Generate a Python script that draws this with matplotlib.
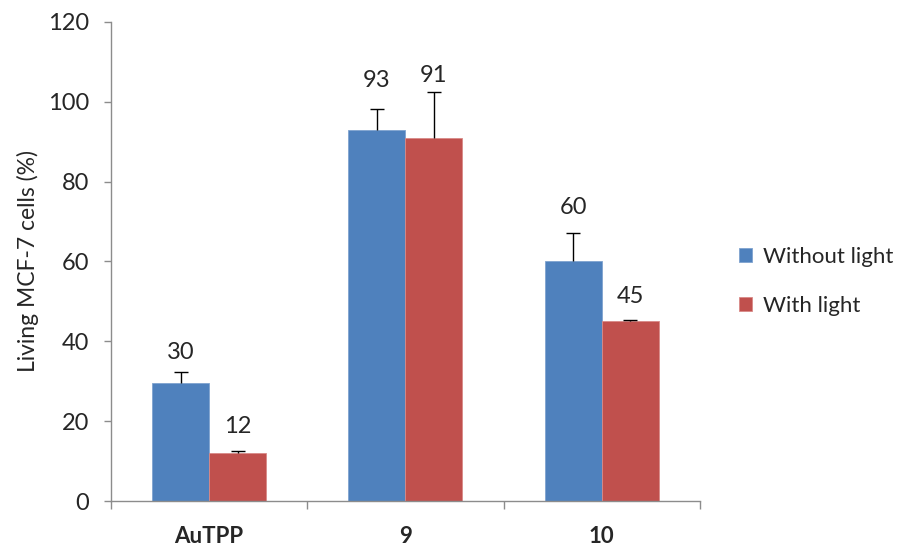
import matplotlib.pyplot as plt
import numpy as np

plt.rcParams["font.family"] = ["Lato", "DejaVu Sans"]

# données
groups = ["AuTPP", "9", "10"]
without_light = [29.6, 92.8, 60.1]
with_light = [11.9, 90.9, 45.0]
err_without = [2.8, 5.4, 6.9]
err_with = [0.5, 11.5, 0.4]
labels_without = ["30", "93", "60"]
labels_with = ["12", "91", "45"]

# décalage des étiquettes au-dessus de la barre (pixels)
off_without = [30, 50, 54]
off_with = [27, 63, 25]

BLUE = "#4F81BD"
RED = "#C0504D"
AXIS = "#8C8C8C"
TXT = "#262626"

fig = plt.figure(figsize=(9.1, 5.46), dpi=100)
ax = fig.add_axes([0.122, 0.0824, 0.647, 0.8776])

x = np.arange(len(groups)) + 0.5
w = 0.29

ax.bar(x - w/2, without_light, w, color=BLUE, edgecolor="#7FA3CF", linewidth=0.6,
       label="Without light", zorder=2)
ax.bar(x + w/2, with_light, w, color=RED, edgecolor="#D98A88", linewidth=0.6,
       label="With light", zorder=2)

# barres d'erreur : seulement vers le haut
for xs, vals, errs in [(x - w/2, without_light, err_without),
                       (x + w/2, with_light, err_with)]:
    eb = ax.errorbar(xs, vals, yerr=[[0]*3, errs], fmt="none",
                     ecolor="black", elinewidth=1, capsize=5, capthick=1, zorder=3)
    eb[1][0].set_visible(False)  # cacher le cap du bas

for xi, v, lab, off in zip(x - w/2, without_light, labels_without, off_without):
    ax.annotate(lab, xy=(xi, v), xytext=(0, off), textcoords="offset pixels",
                ha="center", va="center", fontsize=17, color=TXT)
for xi, v, lab, off in zip(x + w/2, with_light, labels_with, off_with):
    ax.annotate(lab, xy=(xi, v), xytext=(0, off), textcoords="offset pixels",
                ha="center", va="center", fontsize=17, color=TXT)

ax.set_xlim(0, 3)
ax.set_ylim(0, 120)
ax.set_yticks(range(0, 121, 20))
ax.tick_params(axis="y", labelsize=17, colors=AXIS, labelcolor=TXT,
               length=5, width=1, pad=11)
ax.set_xticks([0, 1, 2, 3])
ax.set_xticklabels([])
ax.set_xticks(x, minor=True)
ax.set_xticklabels(groups, minor=True, fontsize=16, fontweight="bold", color=TXT)
ax.tick_params(axis="x", which="major", colors=AXIS, length=6, width=1)
ax.tick_params(axis="x", which="minor", length=0, pad=18)

ax.spines[["top", "right"]].set_visible(False)
for s in ["left", "bottom"]:
    ax.spines[s].set_color(AXIS)
    ax.spines[s].set_linewidth(1)

ax.set_ylabel("Living MCF-7 cells (%)", fontsize=16.5, color=TXT, labelpad=6)

fig.legend(loc="center left", bbox_to_anchor=(0.79, 0.485), frameon=False,
           fontsize=16, handlelength=0.6, handleheight=0.6, handletextpad=0.5,
           labelspacing=1.3, labelcolor=TXT)

fig.savefig("out.png", dpi=100)
